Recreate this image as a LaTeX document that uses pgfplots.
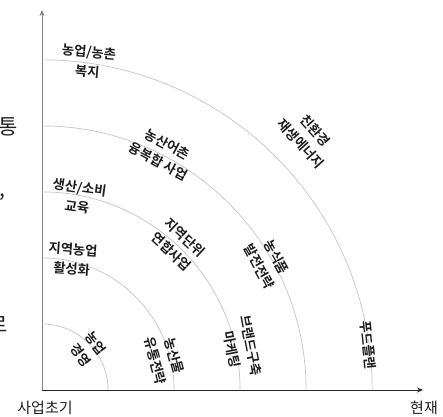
\documentclass[border=0pt]{standalone}
\usepackage{pgfplots}
\pgfplotsset{compat=1.18}
\usepackage{fontspec}
\setmainfont{Noto Sans CJK KR}
\newfontfamily\heavy{Noto Sans CJK KR}[UprightFont=* Bold]
\usetikzlibrary{arrows.meta}
\definecolor{arcgray}{HTML}{C4C4C4}
\definecolor{txt}{HTML}{1E1E1E}
\tikzset{lbl/.style={font=\heavy\fontsize{13.3}{19.5}\selectfont, text=txt, align=center, inner sep=0pt}}
\begin{document}
\begin{tikzpicture}
\useasboundingbox (-42pt,-26pt) rectangle (401pt,390pt);
\begin{axis}[
  scale only axis, width=381pt, height=380pt,
  xmin=0, xmax=5.77, ymin=0, ymax=5.755,
  axis x line=bottom, axis y line=left,
  x axis line style={-{Stealth[length=6pt,width=5pt]}, black!85, line width=0.9pt},
  y axis line style={-{Stealth[length=6pt,width=5pt]}, black!50, line width=0.9pt},
  xtick=\empty, ytick=\empty, clip=false
]
% quarter arcs, radii 1..5
\foreach \r in {1,2,3,4,5}{
  \edef\tmp{\noexpand\draw[arcgray, line width=0.7pt] (axis cs:\r,0) arc[start angle=0, end angle=90, radius=\r];}
  \tmp
}
\node[lbl, rotate=-5]  at (axis cs:0.70,4.97) {농업/농촌\\복지};
\node[lbl, rotate=-28] at (axis cs:1.83,3.59) {농산어촌\\융복합 사업};
\node[lbl, rotate=-8]  at (axis cs:0.55,2.92) {생산/소비\\교육};
\node[lbl, rotate=-43] at (axis cs:2.06,2.20) {지역단위\\연합사업};
\node[lbl, rotate=-4]  at (axis cs:0.46,1.98) {지역농업\\활성화};
\node[lbl, rotate=-52] at (axis cs:0.70,0.62) {농업\\경영};
\node[lbl, rotate=-75] at (axis cs:1.86,0.48) {농산물\\유통전략};
\node[lbl, rotate=-79] at (axis cs:3.02,0.64) {브랜드구축\\마케팅};
\node[lbl, rotate=-61] at (axis cs:3.42,1.94) {농식품\\발전전략};
\node[lbl, rotate=-84] at (axis cs:4.94,0.68) {푸드플랜};
\node[lbl, rotate=-48] at (axis cs:4.03,3.83) {친환경\\재생에너지};
\end{axis}
\node[font=\fontsize{15}{18}\selectfont, text=txt] at (3pt,-18pt) {사업초기};
\node[font=\fontsize{15}{18}\selectfont, text=txt] at (382pt,-18pt) {현재};
\node[font=\fontsize{21}{24}\selectfont, text=txt, anchor=east, inner sep=0pt] at (-24pt,263pt) {통};
\node[font=\fontsize{21}{24}\selectfont, text=txt, anchor=east, inner sep=0pt] at (-36pt,193pt) {,};
\node[font=\fontsize{21}{24}\selectfont, text=txt, anchor=east, inner sep=0pt] at (-34pt,65pt) {로};
\end{tikzpicture}
\end{document}
